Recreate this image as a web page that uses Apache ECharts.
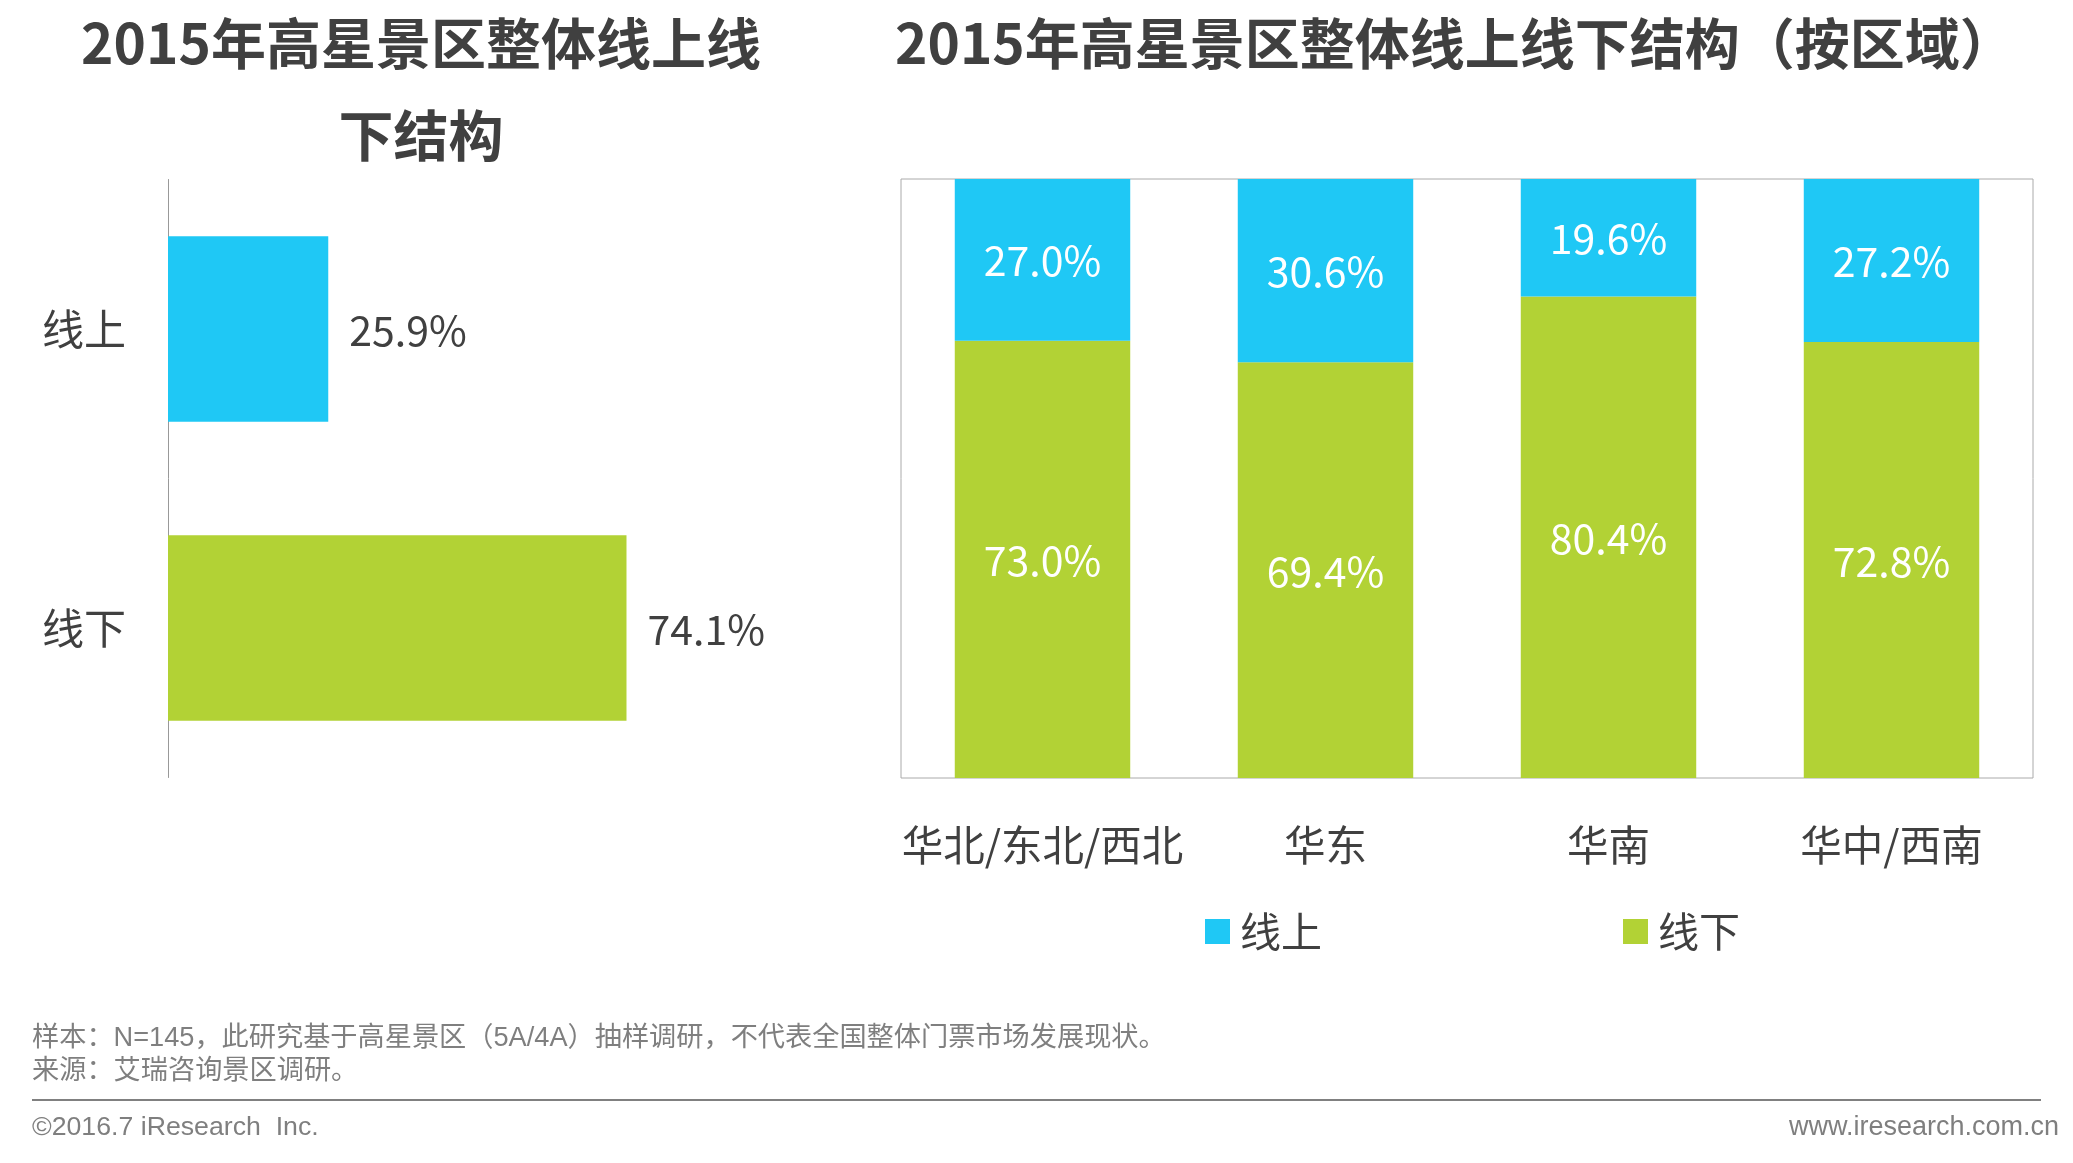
<!DOCTYPE html>
<html>
<head>
<meta charset="utf-8">
<style>
    html, body { margin: 0; padding: 0; background: #fff; }
    #main { width: 2073px; height: 1163px; }
</style>
<script src="https://cdn.jsdelivr.net/npm/echarts@6/dist/echarts.min.js"></script>
</head>
<body>
<div id="main"></div>
<script type="text/javascript">
    // 整体线上线下结构
    const totalNames = ['线上', '线下'];
    const totalValues = [25.9, 74.1];
    // 按区域
    const regions = ['华北/东北/西北', '华东', '华南', '华中/西南'];
    const onlineValues = [27.0, 30.6, 19.6, 27.2];
    const offlineValues = [73.0, 69.4, 80.4, 72.8];

    const titleLeft = '2015年高星景区整体线上线\n下结构';
    const titleRight = '2015年高星景区整体线上线下结构（按区域）';
    const noteLines = [
        '样本：N=145，此研究基于高星景区（5A/4A）抽样调研，不代表全国整体门票市场发展现状。',
        '来源：艾瑞咨询景区调研。'
    ];
    const copyright = '©2016.7 iResearch  Inc.';
    const website = 'www.iresearch.com.cn';

    const BLUE = '#1fc8f5';
    const GREEN = '#b2d235';
    const TEXT = '#404040';
    const FOOT = '#7f7f7f';
    const CJK = '"Noto Sans CJK SC", "Noto Sans", sans-serif';
    const LATIN = '"Liberation Sans", "Noto Sans CJK SC", sans-serif';

    const pct = function (p) { return p.value.toFixed(1) + '%'; };

    let myChart = echarts.init(document.getElementById('main'), null, { renderer: 'canvas' });

    let option = {
        backgroundColor: '#fff',
        animation: false,
        textStyle: { fontFamily: CJK },
        title: [
            {
                text: titleLeft, left: 416, top: -8, textAlign: 'center',
                textStyle: { fontSize: 55, fontWeight: 'bold', color: TEXT, lineHeight: 92, fontFamily: CJK }
            },
            {
                text: titleRight, left: 890, top: -8,
                textStyle: { fontSize: 55, fontWeight: 'bold', color: TEXT, lineHeight: 92, fontFamily: CJK }
            }
        ],
        legend: {
            data: ['线上', '线下'],
            left: 1200, top: 906,
            icon: 'rect',
            itemWidth: 25, itemHeight: 25, itemGap: 301,
            textStyle: { fontSize: 41, color: TEXT, fontFamily: CJK, padding: [0, 0, 0, 5] }
        },
        grid: [
            { left: 168, top: 179.5, width: 495, height: 598 },
            { left: 901, top: 179, width: 1132, height: 599, show: true, borderColor: '#aaaaaa', borderWidth: 1 }
        ],
        xAxis: [
            { type: 'value', gridIndex: 0, min: 0, max: 80, show: false },
            {
                type: 'category', gridIndex: 1, data: regions,
                axisLine: { show: false }, axisTick: { show: false },
                axisLabel: { fontSize: 41.5, color: TEXT, margin: 46, interval: 0 }
            }
        ],
        yAxis: [
            {
                type: 'category', gridIndex: 0, data: totalNames, inverse: true,
                axisLine: { show: true, lineStyle: { color: '#999999', width: 1 } },
                axisTick: { show: false },
                axisLabel: { fontSize: 42, color: TEXT, margin: 42 }
            },
            { type: 'value', gridIndex: 1, min: 0, max: 100, show: false }
        ],
        series: [
            {
                name: '整体', type: 'bar', xAxisIndex: 0, yAxisIndex: 0,
                barCategoryGap: '38%',
                data: totalValues.map(function (v, i) {
                    return { value: v, itemStyle: { color: i === 0 ? BLUE : GREEN } };
                }),
                label: { show: true, position: 'right', distance: 21, offset: [0, 1], fontSize: 41, color: TEXT, formatter: pct }
            },
            {
                name: '线下', type: 'bar', stack: 'area', xAxisIndex: 1, yAxisIndex: 1,
                barCategoryGap: '38%', itemStyle: { color: GREEN }, data: offlineValues,
                label: { show: true, position: 'inside', offset: [0, 1], fontSize: 41, color: '#fff', formatter: pct }
            },
            {
                name: '线上', type: 'bar', stack: 'area', xAxisIndex: 1, yAxisIndex: 1,
                barCategoryGap: '38%', itemStyle: { color: BLUE }, data: onlineValues,
                label: { show: true, position: 'inside', offset: [0, 1], fontSize: 41, color: '#fff', formatter: pct }
            }
        ],
        graphic: [
            { type: 'line', shape: { x1: 32, y1: 1100, x2: 2041, y2: 1100 }, style: { stroke: '#808080', lineWidth: 2 } },
            { type: 'text', x: 32, y: 1038.5, style: { text: noteLines[0], font: '27.2px ' + LATIN, fill: FOOT, verticalAlign: 'middle' } },
            { type: 'text', x: 32, y: 1072, style: { text: noteLines[1], font: '27.2px ' + LATIN, fill: FOOT, verticalAlign: 'middle' } },
            { type: 'text', x: 32, y: 1128, style: { text: copyright, font: '26.7px ' + LATIN, fill: FOOT, verticalAlign: 'middle' } },
            { type: 'text', x: 2059, y: 1128, style: { text: website, font: '27px ' + LATIN, fill: FOOT, align: 'right', verticalAlign: 'middle' } }
        ]
    };
    myChart.setOption(option);
</script>
</body>
</html>
